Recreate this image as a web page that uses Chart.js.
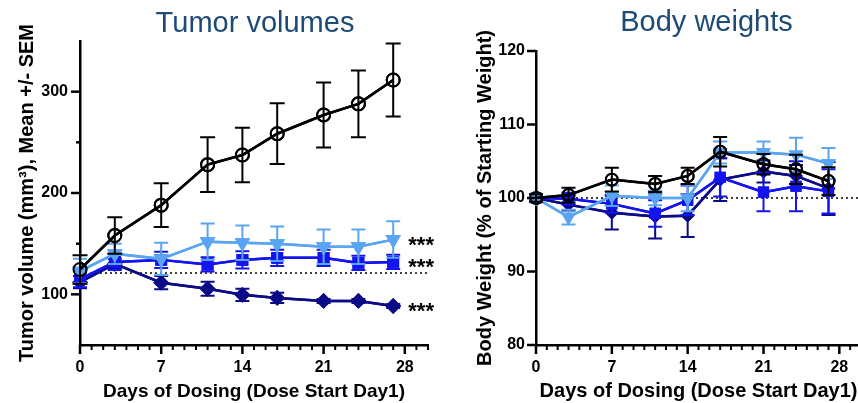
<!DOCTYPE html>
<html>
<head>
<meta charset="utf-8">
<script src="https://cdn.jsdelivr.net/npm/chart.js@4.4.1/dist/chart.umd.min.js"></script>
<style>
  html, body { margin: 0; padding: 0; background: #fff; }
  body { width: 858px; height: 403px; overflow: hidden; position: relative; }
  #left { position: absolute; left: 0; top: 0; }
  #right { position: absolute; left: 440px; top: 0; }
</style>
</head>
<body>
<canvas id="left" width="440" height="403"></canvas>
<canvas id="right" width="421" height="403"></canvas>
<script>
// ---------------- data ----------------
const days = [0, 3, 7, 11, 14, 17, 21, 24, 27];
const xTickLabels = [0, 7, 14, 21, 28];

// Tumor volumes (mm3), mean and SEM
const tvVehicle    = [124.5, 158, 188, 228, 237.5, 258.5, 277, 288, 311.5];
const tvVehicleSem = [14, 18, 21.5, 27, 27, 30, 32, 33, 36];
const tvLow        = [123, 140, 135, 152, 151, 150, 147, 147, 154];
const tvLowSem     = [12, 10, 16, 18, 17, 17, 17, 17, 18];
const tvMid        = [115, 132, 134, 129.5, 134, 136, 136, 131, 132];
const tvMidSem     = [8, 8, 8, 7, 8.5, 8, 8, 7, 7];
const tvHigh       = [112, 130, 111.5, 105.5, 99.5, 96.5, 93.5, 93.5, 88.5];
const tvHighSem    = [6, 5, 6.5, 7, 6, 5, 2, 2, 2];
const tvBaseline   = 121;
const tvYTicks     = [100, 200, 300];
const tvSignif     = ['***', '***', '***'];   // low, mid, high

// Body weights (% of starting weight), mean and SEM
const bwVehicle    = [100, 100.4, 102.5, 101.9, 103, 106.3, 104.6, 103.9, 102.3];
const bwVehicleSem = [0.5, 1, 1.6, 1.1, 1.1, 2, 1.4, 2, 1.9];
const bwLow        = [100, 97.4, 100.3, 100, 100, 106.2, 106.2, 105.9, 104.7];
const bwLowSem     = [0.5, 1, 1.4, 1, 1.8, 1.5, 1.5, 2.3, 2.1];
const bwMid        = [100, 99.9, 99.2, 97.9, 99.7, 102.8, 100.8, 101.6, 100.9];
const bwMidSem     = [0.5, 0.8, 1.2, 1.8, 2, 2.6, 2.6, 3.4, 3.0];
const bwHigh       = [100, 99.1, 98, 97.5, 97.6, 102.5, 103.6, 103, 101.3];
const bwHighSem    = [0.5, 0.8, 2.3, 3, 2.9, 2.9, 1.5, 1.5, 3.6];
const bwBaseline   = 100;
const bwYTicks     = [80, 90, 100, 110, 120];

// ---------------- styling ----------------
const FONT = "'Liberation Sans', Arial, Helvetica, sans-serif";
const C_VEH = '#000000', C_LOW = '#5AA5F2', C_MID = '#1414EE', C_HIGH = '#0B0B88';
const TITLE_COLOR = '#1E4A76';

function pts(vals) { return vals.map((v, i) => ({ x: days[i], y: v })); }

function series(label, vals, sem, color, style, radius, extra) {
  return Object.assign({
    label, data: pts(vals), errors: sem,
    borderColor: color, backgroundColor: color,
    pointBorderColor: color, pointBackgroundColor: color,
    pointStyle: style, pointRadius: radius, pointBorderWidth: 2,
    borderWidth: 2.5, tension: 0, showLine: true
  }, extra || {});
}

function baselineDs(val) {
  return {
    label: 'baseline', data: [{ x: 0, y: val }, { x: 30, y: val }],
    borderColor: '#000', borderWidth: 1.6, borderDash: [2, 3],
    pointRadius: 0, tension: 0, errors: null
  };
}

// error bars drawn through the scales
const errorBars = {
  id: 'errorBars',
  afterDatasetDraw(chart, args) {
    const ds = chart.data.datasets[args.index];
    if (!ds.errors) return;
    const xs = chart.scales.x, ys = chart.scales.y, ctx = chart.ctx;
    ctx.save();
    ctx.strokeStyle = ds.borderColor;
    ctx.lineWidth = ds.errLineWidth || 2;
    const cap = ds.capHalf || 7;
    ds.data.forEach((p, i) => {
      const e = ds.errors[i];
      if (!e) return;
      const x = xs.getPixelForValue(p.x);
      const yt = ys.getPixelForValue(p.y + e);
      const yb = ys.getPixelForValue(p.y - e);
      ctx.beginPath();
      ctx.moveTo(x, yt); ctx.lineTo(x, yb);
      ctx.moveTo(x - cap, yt); ctx.lineTo(x + cap, yt);
      ctx.moveTo(x - cap, yb); ctx.lineTo(x + cap, yb);
      ctx.stroke();
    });
    ctx.restore();
    // redraw points on top of their own bars
    args.meta.controller.draw();
  }
};

// outward tick marks, major and minor
const axisTicks = {
  id: 'axisTicks',
  afterDraw(chart, args, opts) {
    const ctx = chart.ctx, xs = chart.scales.x, ys = chart.scales.y;
    const ca = chart.chartArea;
    ctx.save();
    ctx.strokeStyle = '#000';
    (opts.xMinor || []).forEach(v => {
      const x = xs.getPixelForValue(v);
      ctx.lineWidth = 2; ctx.beginPath(); ctx.moveTo(x, ca.bottom); ctx.lineTo(x, ca.bottom + 5); ctx.stroke();
    });
    (opts.xMajor || []).forEach(v => {
      const x = xs.getPixelForValue(v);
      ctx.lineWidth = 2.5; ctx.beginPath(); ctx.moveTo(x, ca.bottom); ctx.lineTo(x, ca.bottom + 9); ctx.stroke();
    });
    (opts.yMinor || []).forEach(v => {
      const y = ys.getPixelForValue(v);
      ctx.lineWidth = 2.5; ctx.beginPath(); ctx.moveTo(ca.left, y); ctx.lineTo(ca.left - 4, y); ctx.stroke();
    });
    (opts.yMajor || []).forEach(v => {
      const y = ys.getPixelForValue(v);
      ctx.lineWidth = 2.5; ctx.beginPath(); ctx.moveTo(ca.left, y); ctx.lineTo(ca.left - 9, y); ctx.stroke();
    });
    ctx.restore();
  }
};

// chart heading centred over the plot area
const heading = {
  id: 'heading',
  afterDraw(chart, args, opts) {
    const ctx = chart.ctx, ca = chart.chartArea;
    ctx.save();
    ctx.font = '29px ' + FONT;
    ctx.fillStyle = TITLE_COLOR;
    ctx.textAlign = 'center';
    ctx.textBaseline = 'alphabetic';
    ctx.fillText(opts.text, (ca.left + ca.right) / 2 + (opts.dx || 0), opts.y);
    ctx.restore();
  }
};

// significance stars after the last point
const stars = {
  id: 'stars',
  afterDraw(chart, args, opts) {
    if (!opts.items) return;
    const ctx = chart.ctx, xs = chart.scales.x, ys = chart.scales.y;
    ctx.save();
    ctx.font = 'bold 22px ' + FONT;
    ctx.fillStyle = '#000';
    ctx.textAlign = 'left';
    ctx.textBaseline = 'alphabetic';
    opts.items.forEach(it => {
      const y = ys.getPixelForValue(it.y);
      ctx.fillText(it.text, xs.getPixelForValue(opts.x), y + 12.5);
    });
    ctx.restore();
  }
};

function xAxis(titleSize) {
  return {
    type: 'linear', min: 0, max: 30,
    ticks: {
      stepSize: 1, autoSkip: false, maxRotation: 0, padding: 13,
      color: '#000', font: { family: FONT, size: 16, weight: 'bold' },
      callback: v => xTickLabels.includes(v) ? String(v) : ''
    },
    grid: { display: false, drawTicks: false, tickLength: 0 },
    border: { display: true, color: '#000', width: 2.5 },
    title: {
      display: true, text: 'Days of Dosing (Dose Start Day1)', color: '#000',
      font: { family: FONT, size: titleSize, weight: 'bold' }, padding: { top: 0, bottom: 0 }
    },
    afterFit: s => { s.height = 58; s.paddingRight = 0; s.paddingLeft = 0; }
  };
}

function yAxis(min, max, step, labels, title, titlePad, width, labelPad) {
  return {
    type: 'linear', min, max,
    ticks: {
      stepSize: step, autoSkip: false, padding: labelPad,
      color: '#000', font: { family: FONT, size: 16, weight: 'bold' },
      callback: v => labels.includes(v) ? String(v) : ''
    },
    grid: { display: false, drawTicks: false, tickLength: 0 },
    border: { display: true, color: '#000', width: 2.5 },
    title: {
      display: true, text: title, color: '#000',
      font: { family: FONT, size: 20, weight: 'bold' }, padding: { top: titlePad, bottom: 0 }
    },
    afterFit: s => { s.width = width; s.paddingTop = 0; s.paddingBottom = 0; }
  };
}

const minorDays = [];
for (let d = 1; d <= 30; d++) if (!xTickLabels.includes(d)) minorDays.push(d);

function commonOpts() {
  return {
    responsive: false, animation: false, events: [],
    plugins: { legend: { display: false }, tooltip: { enabled: false }, title: { display: false } }
  };
}

// ---------------- left: tumor volumes ----------------
const leftOpts = commonOpts();
leftOpts.layout = { autoPadding: false, padding: { left: 0, right: 12, top: 41, bottom: 0 } };
leftOpts.scales = {
  x: xAxis(19),
  y: yAxis(50, 350, 50, tvYTicks, 'Tumor volume (mm\u00B3), Mean +/- SEM', 15.5, 80, 12)
};
leftOpts.plugins.heading = { text: 'Tumor volumes', y: 31.5, dx: 1 };
leftOpts.plugins.axisTicks = { xMajor: xTickLabels, xMinor: minorDays, yMajor: tvYTicks, yMinor: [150, 250] };
leftOpts.plugins.stars = {
  x: 28.3,
  items: [
    { text: tvSignif[0], y: tvLow[tvLow.length - 1] },
    { text: tvSignif[1], y: tvMid[tvMid.length - 1] },
    { text: tvSignif[2], y: tvHigh[tvHigh.length - 1] }
  ]
};

new Chart(document.getElementById('left'), {
  type: 'line',
  data: {
    datasets: [
      series('Vehicle', tvVehicle, tvVehicleSem, C_VEH, 'circle', 6.5,
             { pointBackgroundColor: 'rgba(255,255,255,0)', capHalf: 7.5 }),
      series('Low', tvLow, tvLowSem, C_LOW, 'triangle', 7, { pointRotation: 180 }),
      series('Mid', tvMid, tvMidSem, C_MID, 'rect', 7),
      series('High', tvHigh, tvHighSem, C_HIGH, 'rectRot', 6.5),
      baselineDs(tvBaseline)
    ]
  },
  options: leftOpts,
  plugins: [errorBars, axisTicks, heading, stars]
});

// ---------------- right: body weights ----------------
const rightOpts = commonOpts();
rightOpts.layout = { autoPadding: false, padding: { left: 0, right: 0, top: 51, bottom: 0 } };
rightOpts.scales = {
  x: xAxis(20),
  y: yAxis(80, 120, 10, bwYTicks, 'Body Weight (% of Starting Weight)', 33, 96, 11)
};
rightOpts.plugins.heading = { text: 'Body weights', y: 31, dx: 8 };
rightOpts.plugins.axisTicks = { xMajor: xTickLabels, xMinor: minorDays, yMajor: bwYTicks, yMinor: [] };

new Chart(document.getElementById('right'), {
  type: 'line',
  data: {
    datasets: [
      series('Vehicle', bwVehicle, bwVehicleSem, C_VEH, 'circle', 6,
             { pointBackgroundColor: 'rgba(255,255,255,0)', capHalf: 7 }),
      series('Low', bwLow, bwLowSem, C_LOW, 'triangle', 6.5, { pointRotation: 180 }),
      series('Mid', bwMid, bwMidSem, C_MID, 'rect', 6.5),
      series('High', bwHigh, bwHighSem, C_HIGH, 'rectRot', 5.5),
      baselineDs(bwBaseline)
    ]
  },
  options: rightOpts,
  plugins: [errorBars, axisTicks, heading]
});
</script>
</body>
</html>
